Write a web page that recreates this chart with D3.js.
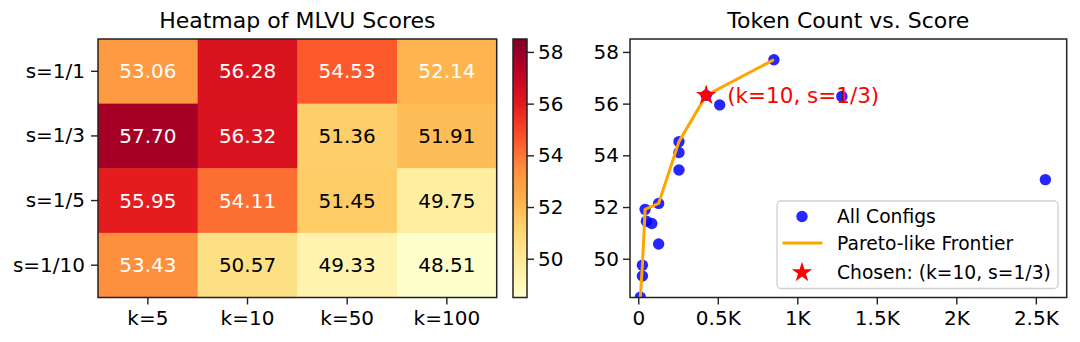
<!DOCTYPE html>
<html>
<head>
<meta charset="utf-8">
<script src="https://cdn.jsdelivr.net/npm/d3@7"></script>
<style>
  body { margin: 0; background: #fff; }
  svg { display: block; font-family: "DejaVu Sans", sans-serif; }
</style>
</head>
<body>
<svg id="chart" width="1080" height="342"></svg>
<script>
// ---------------- data ----------------
const kLabels = ["k=5", "k=10", "k=50", "k=100"];
const sLabels = ["s=1/1", "s=1/3", "s=1/5", "s=1/10"];
const scoresS1_1  = [53.06, 56.28, 54.53, 52.14];
const scoresS1_3  = [57.70, 56.32, 51.36, 51.91];
const scoresS1_5  = [55.95, 54.11, 51.45, 49.75];
const scoresS1_10 = [53.43, 50.57, 49.33, 48.51];
const tokensS1_1  = [2560, 1280, 256, 128];
const tokensS1_3  = [853, 427, 85, 43];
const tokensS1_5  = [512, 256, 51, 26];
const tokensS1_10 = [256, 128, 26, 13];
const frontierTokens = [13, 26, 43, 128, 256, 427, 853];
const frontierScores = [48.51, 49.75, 51.91, 52.14, 54.53, 56.32, 57.70];
const chosenTokens = 427;
const chosenScore = 56.32;
const chosenLabel = "(k=10, s=1/3)";
const colorbarTicks = [50, 52, 54, 56, 58];
const scatterYTicks = [50, 52, 54, 56, 58];
const scatterXTicks = [0, 500, 1000, 1500, 2000, 2500];
const legendLabels = ["All Configs", "Pareto-like Frontier", "Chosen: (k=10, s=1/3)"];

const scoreRows = [scoresS1_1, scoresS1_3, scoresS1_5, scoresS1_10];
const tokenRows = [tokensS1_1, tokensS1_3, tokensS1_5, tokensS1_10];

const cells = [];
sLabels.forEach((s, i) => kLabels.forEach((k, j) => {
  cells.push({ s, k, score: scoreRows[i][j], tokens: tokenRows[i][j] });
}));

// ---------------- setup ----------------
const svg = d3.select("#chart");
const FONT = "DejaVu Sans, sans-serif";
const FRAME = "#222";

// YlOrRd (linear segmented like matplotlib)
const ylorrd = ["#ffffcc","#ffeda0","#fed976","#feb24c","#fd8d3c","#fc4e2a","#e31a1c","#bd0026","#800026"];
const vmin = 48.5, vmax = 58.5;
const color = d3.scaleLinear()
  .domain(ylorrd.map((_, i) => vmin + (vmax - vmin) * i / (ylorrd.length - 1)))
  .range(ylorrd)
  .interpolate(d3.interpolateRgb)
  .clamp(true);

function styleAxis(g, size) {
  g.select(".domain").remove();
  g.selectAll(".tick line").attr("stroke", FRAME).attr("stroke-width", 1.4);
  g.selectAll(".tick text").attr("fill", "#000").style("font-size", size + "px").style("font-family", FONT);
}

// ---------------- heatmap ----------------
const hx = d3.scaleBand().domain(kLabels).range([98, 496.7]);
const hy = d3.scaleBand().domain(sLabels).range([39, 297.5]);

const hm = svg.append("g");
hm.selectAll("rect.cell").data(cells).join("rect")
  .attr("class", "cell")
  .attr("x", d => hx(d.k)).attr("y", d => hy(d.s))
  .attr("width", hx.bandwidth() + 0.5).attr("height", hy.bandwidth() + 0.5)
  .attr("fill", d => color(d.score));
hm.selectAll("text.val").data(cells).join("text")
  .attr("class", "val")
  .attr("x", d => hx(d.k) + hx.bandwidth() / 2)
  .attr("y", d => hy(d.s) + hy.bandwidth() / 2 + 7)
  .attr("text-anchor", "middle")
  .style("font-size", "20px")
  .attr("fill", d => d.score >= 52 ? "#fff" : "#000")
  .text(d => d.score.toFixed(2));
hm.append("rect").attr("x", 98).attr("y", 39).attr("width", 496.7 - 98).attr("height", 297.5 - 39)
  .attr("fill", "none").attr("stroke", FRAME).attr("stroke-width", 1.5);

svg.append("g").attr("transform", "translate(98,0)")
  .call(d3.axisLeft(hy).tickSize(7).tickPadding(6))
  .call(g => styleAxis(g, 20));
svg.append("g").attr("transform", "translate(0,297.5)")
  .call(d3.axisBottom(hx).tickSize(7).tickPadding(6))
  .call(g => styleAxis(g, 20));

svg.append("text").attr("x", 297.3).attr("y", 28).attr("text-anchor", "middle")
  .style("font-size", "22px").text("Heatmap of MLVU Scores");

// ---------------- colorbar ----------------
const cbX = 513, cbW = 14, cbTop = 39, cbBot = 297.5;
const cy = d3.scaleLinear().domain([vmin, vmax]).range([cbBot, cbTop]);
const defs = svg.append("defs");
const grad = defs.append("linearGradient").attr("id", "cbgrad")
  .attr("x1", 0).attr("y1", 1).attr("x2", 0).attr("y2", 0);
d3.range(0, 1.0001, 0.05).forEach(t => {
  grad.append("stop").attr("offset", t).attr("stop-color", color(vmin + t * (vmax - vmin)));
});
svg.append("rect").attr("x", cbX).attr("y", cbTop).attr("width", cbW).attr("height", cbBot - cbTop)
  .attr("fill", "url(#cbgrad)").attr("stroke", FRAME).attr("stroke-width", 1.5);
svg.append("g").attr("transform", `translate(${cbX + cbW},0)`)
  .call(d3.axisRight(cy).tickValues(colorbarTicks).tickSize(7).tickPadding(4))
  .call(g => styleAxis(g, 20));

// ---------------- scatter ----------------
const L = 630, R = 1066.7, T = 39, B = 297.5;
const sx = d3.scaleLinear().domain([-52, 2694]).range([L, R]);
const sy = d3.scaleLinear().domain([48.5, 58.5]).range([B, T]);

defs.append("clipPath").attr("id", "plotclip")
  .append("rect").attr("x", L).attr("y", T).attr("width", R - L).attr("height", B - T);

const plot = svg.append("g").attr("clip-path", "url(#plotclip)");
plot.selectAll("circle.pt").data(cells).join("circle")
  .attr("class", "pt")
  .attr("cx", d => sx(d.tokens)).attr("cy", d => sy(d.score))
  .attr("r", 5.7).attr("fill", "#0000ff").attr("fill-opacity", 0.85);

const line = d3.line().x(d => sx(d[0])).y(d => sy(d[1]));
plot.append("path")
  .datum(frontierTokens.map((t, i) => [t, frontierScores[i]]))
  .attr("d", line).attr("fill", "none").attr("stroke", "#ffa500").attr("stroke-width", 3)
  .attr("stroke-linejoin", "round");

const star = d3.symbol().type(d3.symbolStar).size(130);
plot.append("path").attr("d", star())
  .attr("transform", `translate(${sx(chosenTokens)},${sy(chosenScore)})`)
  .attr("fill", "#ff0000");

svg.append("text").attr("x", sx(chosenTokens) + 21).attr("y", sy(chosenScore) + 7.5)
  .style("font-size", "21.5px").attr("fill", "#ff0000").text(chosenLabel);

svg.append("rect").attr("x", L).attr("y", T).attr("width", R - L).attr("height", B - T)
  .attr("fill", "none").attr("stroke", FRAME).attr("stroke-width", 1.5);

svg.append("g").attr("transform", `translate(${L},0)`)
  .call(d3.axisLeft(sy).tickValues(scatterYTicks).tickSize(7).tickPadding(4))
  .call(g => styleAxis(g, 20));
svg.append("g").attr("transform", `translate(0,${B})`)
  .call(d3.axisBottom(sx).tickValues(scatterXTicks).tickSize(7).tickPadding(6)
    .tickFormat(v => v === 0 ? "0" : (v / 1000) + "K"))
  .call(g => styleAxis(g, 20));

svg.append("text").attr("x", (L + R) / 2).attr("y", 28).attr("text-anchor", "middle")
  .style("font-size", "22px").text("Token Count vs. Score");

// ---------------- legend ----------------
const lg = svg.append("g");
lg.append("rect").attr("x", 777).attr("y", 201).attr("width", 281).attr("height", 87.5)
  .attr("rx", 4).attr("fill", "#fff").attr("fill-opacity", 0.8)
  .attr("stroke", "#d0d0d0").attr("stroke-width", 1.3);
const rowY = [216.5, 243, 272.5];
lg.append("circle").attr("cx", 802).attr("cy", rowY[0]).attr("r", 5.7)
  .attr("fill", "#0000ff").attr("fill-opacity", 0.85);
lg.append("line").attr("x1", 782.5).attr("x2", 822.5).attr("y1", rowY[1]).attr("y2", rowY[1])
  .attr("stroke", "#ffa500").attr("stroke-width", 3);
lg.append("path").attr("d", star()).attr("transform", `translate(802,${rowY[2]})`).attr("fill", "#ff0000");
lg.selectAll("text.lt").data(legendLabels).join("text")
  .attr("class", "lt")
  .attr("x", 837).attr("y", (d, i) => rowY[i] + 6.5)
  .style("font-size", "18.7px").text(d => d);
</script>
</body>
</html>
